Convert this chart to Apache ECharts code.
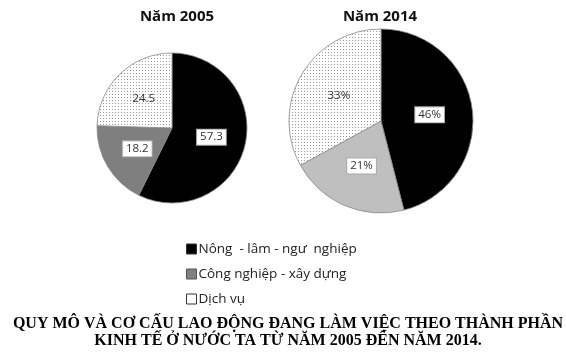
<!DOCTYPE html>
<html><head><meta charset="utf-8">
<script src="https://cdn.jsdelivr.net/npm/echarts@6/dist/echarts.min.js"></script>
<style>html,body{margin:0;padding:0;background:#fff}#c{width:566px;height:352px}</style>
</head><body><div id="c"></div>
<script>
const categories = ['Nông  - lâm - ngư  nghiệp', 'Công nghiệp - xây dựng', 'Dịch vụ'];
const values2005 = [57.3, 18.2, 24.5];
const values2014 = [46, 21, 33];
const pieTitles = ['Năm 2005', 'Năm 2014'];
const captionLines = ['QUY MÔ VÀ CƠ CẤU LAO ĐỘNG ĐANG LÀM VIỆC THEO THÀNH PHẦN', 'KINH TẾ Ở NƯỚC TA TỪ NĂM 2005 ĐẾN NĂM 2014.'];

const pc = document.createElement('canvas');
pc.width = 3; pc.height = 3;
const ctx = pc.getContext('2d');
ctx.fillStyle = '#fff'; ctx.fillRect(0,0,3,3);
ctx.fillStyle = '#9a9a9a'; ctx.fillRect(1,1,1,1);
const dotted = {image: pc, repeat: 'repeat'};

const boxLabel = {show:true, position:'inside', color:'#333', fontSize:11.5, fontFamily:'Open Sans',
  backgroundColor:'#fff', borderColor:'#aaa', borderWidth:1, padding:[2,3,1,3]};
const plainLabel = {show:true, position:'inside', color:'#333', fontSize:11.5, fontFamily:'Open Sans'};

function makeData(vals, gray, fmt) {
  const cols = ['#000', gray, dotted];
  return categories.map((n,i)=>({name:n, value:vals[i],
    itemStyle:{color:cols[i]},
    label: Object.assign({}, i===2?plainLabel:boxLabel, {formatter: fmt})}));
}

const chart = echarts.init(document.getElementById('c'));
chart.setOption({
  animation:false,
  title:[
    {text:pieTitles[0], left:172, top:4, textAlign:'center', textStyle:{fontSize:15, fontWeight:'bold', color:'#111', fontFamily:'Open Sans'}},
    {text:pieTitles[1], left:375, top:4, textAlign:'center', textStyle:{fontSize:15, fontWeight:'bold', color:'#111', fontFamily:'Open Sans'}},
    {text:captionLines.join('\n'), left:283, top:310, textAlign:'center', textStyle:{fontSize:16, fontWeight:'bold', color:'#000', fontFamily:'Liberation Serif', lineHeight:17}}
  ],
  legend:{orient:'vertical', left:181, top:237, itemWidth:10, itemHeight:10, itemGap:11, itemStyle:{borderColor:'#333', borderWidth:1},
    textStyle:{fontSize:13.5, color:'#222', fontFamily:'Open Sans', padding:[0,0,0,-3]},
    data:[
      {name:categories[0], icon:'rect', itemStyle:{color:'#000'}},
      {name:categories[1], icon:'rect', itemStyle:{color:'#808080', borderColor:'#555'}},
      {name:categories[2], icon:'rect', itemStyle:{color:'#fff', borderColor:'#333'}}
    ]},
  series:[
    {type:'pie', center:[172,128], radius:75, startAngle:90, clockwise:true, silent:true,
      itemStyle:{borderColor:'#888', borderWidth:0.8}, labelLine:{show:false},
      data:makeData(values2005, '#7f7f7f', p=>String(p.value))},
    {type:'pie', center:[381,121], radius:92, startAngle:90, clockwise:true, silent:true,
      itemStyle:{borderColor:'#888', borderWidth:0.8}, labelLine:{show:false},
      data:makeData(values2014, '#bfbfbf', p=>p.value+'%')}
  ]
});
</script></body></html>
